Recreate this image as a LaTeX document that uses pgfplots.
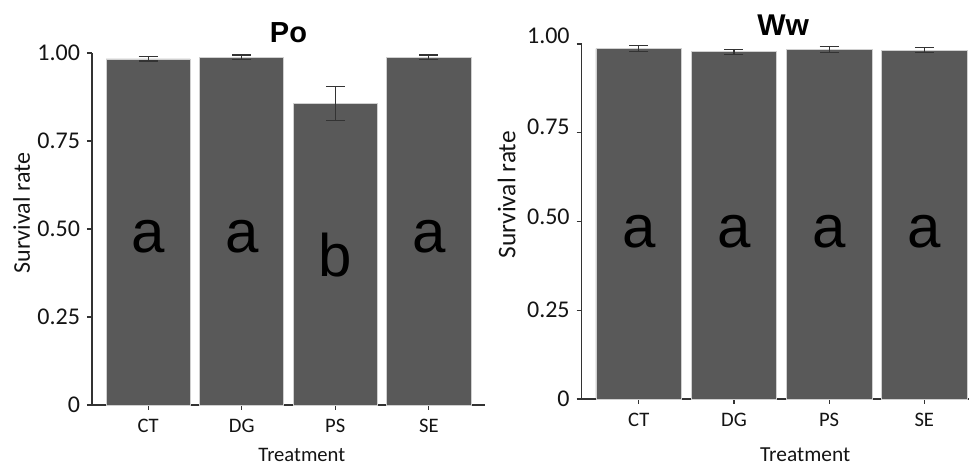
\documentclass[border=0pt]{standalone}
\usepackage{fontspec}
\setmainfont{Carlito}
\newfontfamily\arial{Liberation Sans}
\usepackage{pgfplots}
\pgfplotsset{compat=1.18}
\definecolor{barfill}{HTML}{595959}
\definecolor{baredge}{HTML}{D0D0D0}
\definecolor{axcol}{HTML}{333333}
\tikzset{letter/.style={font=\arial\fontsize{30}{32}\selectfont, anchor=base, text=black}}
\begin{document}
\begin{tikzpicture}
\useasboundingbox (0,0) rectangle (484.5pt,232.5pt);
\pgfplotsset{
  panel/.style={
    scale only axis,
    anchor=south west,
    axis x line=bottom, axis y line=left,
    axis line style={-, axcol, line width=0.7pt},
    tick align=outside,
    major tick length=2.5pt,
    tick style={axcol, line width=0.6pt},
    ymin=0, ymax=1,
    xmin=0.4,
    xtick={1,2,3,4}, xticklabels={CT,DG,PS,SE},
    ytick={0,0.25,0.5,0.75,1},
    /pgf/number format/assume math mode=true,
    xticklabel style={font=\fontsize{10.3}{12}\selectfont, text=black!92, yshift=-1.2pt},
    yticklabel style={font=\fontsize{12}{14}\selectfont, text=black!92},
    xlabel={Treatment}, ylabel={Survival rate},
    xlabel style={font=\fontsize{10.3}{12}\selectfont, text=black!92},
    ylabel style={font=\fontsize{12}{14}\selectfont, text=black!92},
    ybar, bar width=0.9,
    clip=false,
    title style={font=\arial\bfseries\fontsize{14.5}{16}\selectfont, anchor=center, yshift=-6pt},
  },
  bars/.style={
    fill=barfill, draw=baredge, line width=0.4pt,
    error bars/y dir=both, error bars/y explicit,
    error bars/error bar style={line width=0.6pt, color=axcol},
    error bars/error mark options={rotate=90, mark size=4.75pt, line width=0.6pt, color=axcol},
  },
}
% Left panel: Po
\begin{axis}[panel,
  at={(46pt,30pt)}, width=196.5pt, height=176pt, xmax=4.6,
  yticklabels={0,0.25,0.50,0.75,1.00},
  title={Po}, title style={at={(axis description cs:0.5,1.058)}},
  ylabel style={at={(axis description cs:-0.179,0.545)}, anchor=center},
  xlabel style={at={(axis description cs:0.534,-0.142)}, anchor=center},
]
\addplot[bars] coordinates {
  (1,0.983) +- (0,0.006)
  (2,0.9875) +- (0,0.0067)
  (3,0.856) +- (0,0.048)
  (4,0.9875) +- (0,0.0067)
};
\node[letter] at (axis cs:1,0.432) {a};
\node[letter] at (axis cs:2,0.432) {a};
\node[letter] at (axis cs:3,0.364) {b};
\node[letter] at (axis cs:4,0.432) {a};
\end{axis}
% Right panel: Ww
\begin{axis}[panel,
  at={(290.85pt,33pt)}, width=193.65pt, height=177.5pt, xmax=4.47,
  yticklabels={0,\raisebox{1pt}{0.25},\raisebox{5pt}{0.50},\raisebox{6.5pt}{0.75},\raisebox{8.5pt}{1.00}},
  title={Ww}, title style={at={(axis description cs:0.52,1.054)}, font=\arial\bfseries\fontsize{15}{17}\selectfont},
  ylabel style={at={(axis description cs:-0.194,0.575)}, anchor=center, font=\fontsize{12.7}{14}\selectfont},
  xlabel style={at={(axis description cs:0.577,-0.158)}, anchor=center, font=\fontsize{10.7}{12}\selectfont},
]
\addplot[bars] coordinates {
  (1,0.987) +- (0,0.008)
  (2,0.978) +- (0,0.007)
  (3,0.985) +- (0,0.008)
  (4,0.983) +- (0,0.008)
};
\node[letter] at (axis cs:1,0.428) {a};
\node[letter] at (axis cs:2,0.428) {a};
\node[letter] at (axis cs:3,0.428) {a};
\node[letter] at (axis cs:4,0.428) {a};
\end{axis}
\end{tikzpicture}
\end{document}
